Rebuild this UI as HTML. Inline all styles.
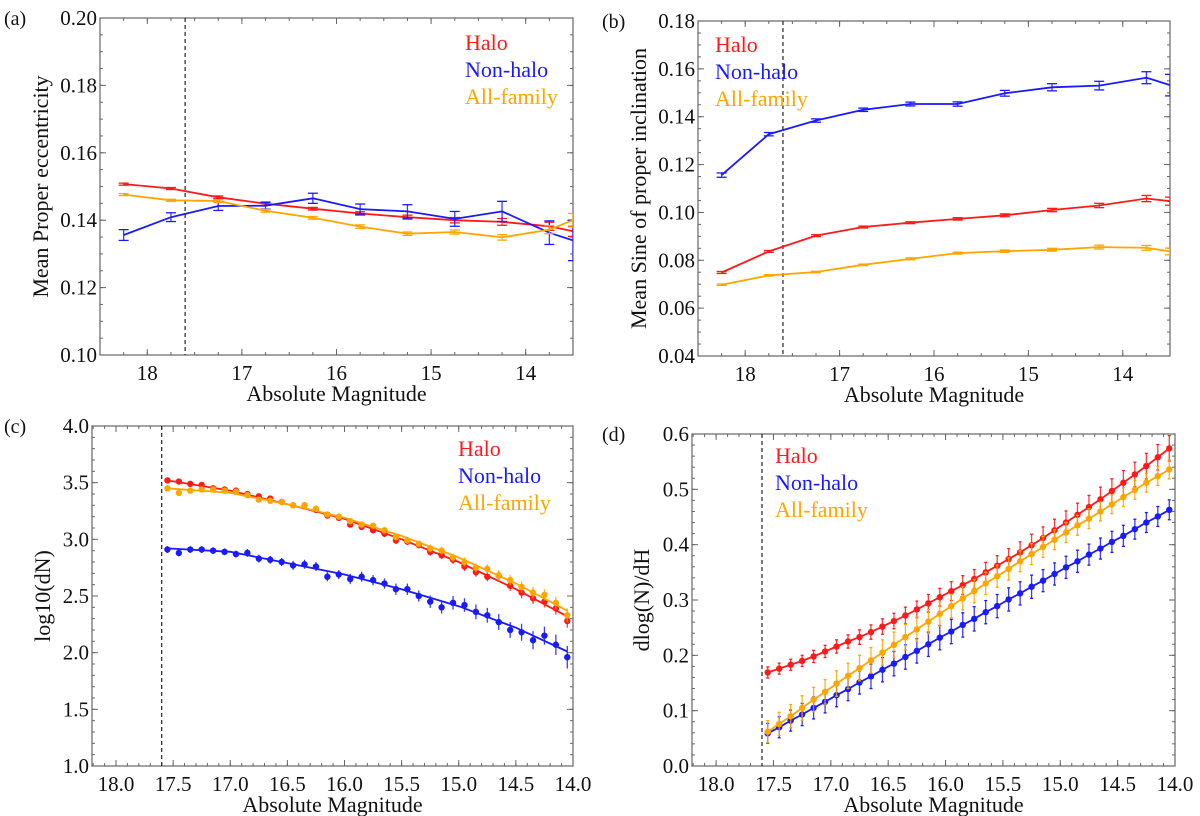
<!DOCTYPE html>
<html><head><meta charset="utf-8">
<style>
html,body{margin:0;padding:0;background:#fff;}
svg{display:block;font-family:"Liberation Serif",serif;}
</style></head>
<body>
<svg id="fig" width="1200" height="816" viewBox="0 0 1200 816"></svg>
<script>
// ---------- Panel (a) data: mean proper eccentricity ----------
const magAB = [18.25,17.75,17.25,16.75,16.25,15.75,15.25,14.75,14.25,13.75,13.5];
const aHalo = [0.1507,0.1494,0.1468,0.1449,0.1434,0.1420,0.1409,0.1400,0.1395,0.1382,0.1367];
const aHaloErr = [0.0003,0.0003,0.0004,0.0005,0.0004,0.0005,0.0006,0.0008,0.0010,0.0012,0.0015];
const aNon = [0.1356,0.1409,0.1442,0.1443,0.1465,0.1433,0.1426,0.1404,0.1426,0.1363,0.1340];
const aNonErr = [0.0016,0.0013,0.0013,0.0010,0.0015,0.0015,0.0020,0.0022,0.0030,0.0035,0.0060];
const aAll = [0.1476,0.1459,0.1457,0.1428,0.1407,0.1381,0.1360,0.1365,0.1349,0.1372,0.1400];
const aAllErr = [0.0003,0.0003,0.0004,0.0004,0.0004,0.0005,0.0005,0.0006,0.0008,0.0012,0.0020];
const aYTicks = [0.10,0.12,0.14,0.16,0.18,0.20];
const abXTicks = [18,17,16,15,14];

// ---------- Panel (b) data: mean sine of proper inclination ----------
const bHalo = [0.0749,0.0837,0.0903,0.0939,0.0957,0.0973,0.0988,0.1010,0.1029,0.1058,0.1047];
const bHaloErr = [0.0004,0.0004,0.0004,0.0004,0.0004,0.0005,0.0006,0.0007,0.0009,0.0013,0.0017];
const bNon = [0.1156,0.1327,0.1384,0.1429,0.1453,0.1453,0.1498,0.1523,0.1530,0.1563,0.1532];
const bNonErr = [0.0009,0.0007,0.0007,0.0007,0.0008,0.0009,0.0012,0.0015,0.0018,0.0025,0.0045];
const bAll = [0.0698,0.0737,0.0751,0.0781,0.0806,0.0830,0.0838,0.0844,0.0855,0.0852,0.0837];
const bAllErr = [0.0003,0.0003,0.0003,0.0003,0.0004,0.0004,0.0005,0.0006,0.0008,0.0010,0.0014];
const bYTicks = [0.04,0.06,0.08,0.10,0.12,0.14,0.16,0.18];

// ---------- Panels (c),(d) shared magnitudes ----------
const magCD = [17.55,17.45,17.35,17.25,17.15,17.05,16.95,16.85,16.75,16.65,16.55,16.45,16.35,16.25,16.15,16.05,15.95,15.85,15.75,15.65,15.55,15.45,15.35,15.25,15.15,15.05,14.95,14.85,14.75,14.65,14.55,14.45,14.35,14.25,14.15,14.05];
const cdXTicks = [18.0,17.5,17.0,16.5,16.0,15.5,15.0,14.5,14.0];

// ---------- Panel (c) data: log10(dN) ----------
const cHalo = [3.52,3.51,3.49,3.48,3.45,3.44,3.43,3.40,3.38,3.36,3.33,3.30,3.30,3.26,3.21,3.19,3.13,3.11,3.08,3.05,2.99,2.98,2.95,2.89,2.86,2.82,2.76,2.71,2.67,2.68,2.59,2.53,2.48,2.45,2.39,2.28];
const cAll = [3.45,3.41,3.43,3.44,3.44,3.43,3.42,3.39,3.35,3.34,3.33,3.30,3.30,3.27,3.22,3.20,3.16,3.13,3.12,3.08,3.02,2.99,2.96,2.92,2.90,2.84,2.80,2.75,2.74,2.68,2.64,2.58,2.53,2.51,2.44,2.33];
const cNon = [2.91,2.88,2.91,2.91,2.90,2.89,2.87,2.88,2.83,2.82,2.80,2.77,2.78,2.76,2.67,2.69,2.65,2.67,2.64,2.61,2.56,2.56,2.50,2.45,2.40,2.44,2.42,2.36,2.33,2.27,2.20,2.18,2.11,2.15,2.07,1.96];
const cHaloErr = [0.01,0.01,0.01,0.015,0.015,0.015,0.015,0.015,0.02,0.02,0.02,0.02,0.02,0.02,0.02,0.025,0.025,0.025,0.025,0.03,0.03,0.03,0.03,0.035,0.035,0.035,0.04,0.04,0.04,0.045,0.045,0.05,0.05,0.05,0.055,0.06];
const cNonErr = [0.03,0.03,0.03,0.03,0.03,0.03,0.03,0.035,0.035,0.035,0.035,0.04,0.04,0.04,0.04,0.04,0.045,0.045,0.045,0.045,0.05,0.05,0.05,0.055,0.055,0.06,0.06,0.065,0.065,0.07,0.07,0.075,0.08,0.08,0.09,0.1];
const cFitMag = [17.55,17.0,16.5,16.0,15.5,15.0,14.5,14.05];
const cFitHalo = [3.52,3.43,3.31,3.18,3.00,2.80,2.56,2.32];
const cFitAll = [3.45,3.41,3.31,3.19,3.03,2.84,2.61,2.37];
const cFitNon = [2.92,2.89,2.79,2.69,2.56,2.41,2.22,2.01];
const cYTicks = [1.0,1.5,2.0,2.5,3.0,3.5,4.0];

// ---------- Panel (d) data: dlog(N)/dH ----------
const dHalo = [0.169,0.176,0.183,0.190,0.198,0.207,0.216,0.225,0.233,0.242,0.252,0.262,0.272,0.283,0.294,0.305,0.316,0.327,0.338,0.350,0.362,0.374,0.386,0.399,0.412,0.426,0.440,0.454,0.468,0.482,0.497,0.512,0.527,0.542,0.558,0.574];
const dAll = [0.062,0.076,0.090,0.105,0.120,0.134,0.149,0.163,0.177,0.191,0.205,0.219,0.233,0.247,0.261,0.275,0.289,0.303,0.316,0.330,0.343,0.356,0.370,0.383,0.396,0.409,0.422,0.435,0.447,0.460,0.473,0.486,0.499,0.512,0.524,0.536];
const dNon = [0.059,0.070,0.082,0.093,0.105,0.116,0.128,0.139,0.151,0.162,0.174,0.185,0.197,0.208,0.220,0.232,0.243,0.255,0.266,0.278,0.289,0.301,0.312,0.324,0.335,0.347,0.359,0.370,0.382,0.393,0.405,0.416,0.428,0.440,0.451,0.463];
const dHaloErr = [0.010,0.010,0.010,0.010,0.011,0.011,0.012,0.012,0.013,0.013,0.014,0.014,0.015,0.015,0.016,0.016,0.017,0.017,0.017,0.018,0.018,0.019,0.019,0.020,0.020,0.020,0.021,0.021,0.021,0.022,0.022,0.022,0.022,0.023,0.023,0.023];
const dAllErr = [0.020,0.021,0.021,0.022,0.022,0.022,0.023,0.023,0.023,0.023,0.023,0.023,0.023,0.022,0.022,0.022,0.021,0.021,0.021,0.020,0.020,0.020,0.019,0.019,0.019,0.018,0.018,0.018,0.018,0.017,0.017,0.017,0.017,0.017,0.017,0.017];
const dNonErr = [0.018,0.019,0.019,0.020,0.020,0.020,0.021,0.021,0.021,0.022,0.022,0.022,0.022,0.022,0.022,0.022,0.022,0.022,0.022,0.021,0.021,0.021,0.021,0.021,0.020,0.020,0.020,0.020,0.019,0.019,0.019,0.019,0.018,0.018,0.018,0.018];
const dYTicks = [0.0,0.1,0.2,0.3,0.4,0.5,0.6];

const RED = '#ff1a1a', BLUE = '#1a1aff', ORANGE = '#ffa500';
const NS = 'http://www.w3.org/2000/svg';
const svg = document.getElementById('fig');

function mk(tag, attrs, parent) {
  const e = document.createElementNS(NS, tag);
  for (const k in attrs) e.setAttribute(k, attrs[k]);
  (parent || svg).appendChild(e);
  return e;
}

function panel(p) {
  const g = mk('g', {});
  
  
  const sx = v => p.L + (p.x0 - v) / (p.x0 - p.x1) * (p.R - p.L);
  const sy = v => p.B - (v - p.y0) / (p.y1 - p.y0) * (p.B - p.T);

  const fr = mk('rect', {x: p.L, y: p.T, width: p.R - p.L, height: p.B - p.T, fill: 'none', stroke: '#666', 'stroke-width': 1.2}, g);
  
  

  for (let v = p.x1; v <= p.x0 + 1e-9; v += p.xMinor) {
    const X = sx(v);
    mk('line', {x1: X, x2: X, y1: p.B, y2: p.B - 3, stroke: '#666', 'stroke-width': 1}, g);
    mk('line', {x1: X, x2: X, y1: p.T, y2: p.T + 3, stroke: '#666', 'stroke-width': 1}, g);
  }
  for (let v = p.y0; v <= p.y1 + 1e-9; v += p.yMinor) {
    const Y = sy(v);
    mk('line', {x1: p.L, x2: p.L + 3, y1: Y, y2: Y, stroke: '#666', 'stroke-width': 1}, g);
    mk('line', {x1: p.R, x2: p.R - 3, y1: Y, y2: Y, stroke: '#666', 'stroke-width': 1}, g);
  }
  p.xTicks.forEach(v => {
    const X = sx(v);
    mk('line', {x1: X, x2: X, y1: p.B, y2: p.B - 6, stroke: '#666', 'stroke-width': 1}, g);
    mk('line', {x1: X, x2: X, y1: p.T, y2: p.T + 6, stroke: '#666', 'stroke-width': 1}, g);
    const t = mk('text', {x: X, y: p.B + 25, 'font-size': 21, 'text-anchor': 'middle', fill: '#111'}, g);
    t.textContent = v.toFixed(p.xDec);
    
    
  });
  p.yTicks.forEach(v => {
    const Y = sy(v);
    mk('line', {x1: p.L, x2: p.L + 6, y1: Y, y2: Y, stroke: '#666', 'stroke-width': 1}, g);
    mk('line', {x1: p.R, x2: p.R - 6, y1: Y, y2: Y, stroke: '#666', 'stroke-width': 1}, g);
    const t = mk('text', {x: p.L - 3, y: Y + 7, 'font-size': 21, 'text-anchor': 'end', fill: '#111'}, g);
    t.textContent = v.toFixed(p.yDec);
    
    
  });
  const xt = mk('text', {x: (p.L + p.R) / 2, y: p.B + 46, 'font-size': 22, 'text-anchor': 'middle', fill: '#111'}, g);
  xt.textContent = 'Absolute Magnitude';
  
  
  const yt = mk('text', {x: 0, y: 0, 'font-size': 22, 'text-anchor': 'middle', fill: '#111', transform: `translate(${p.yTitleX},${(p.T + p.B) / 2}) rotate(-90)`}, g);
  yt.textContent = p.yTitle;
  
  
  const pl = mk('text', {x: p.letterX, y: p.T + 7, 'font-size': 20, fill: '#111'}, g);
  pl.textContent = p.letter;
  
  

  const dl = mk('line', {x1: sx(p.dash), x2: sx(p.dash), y1: p.T, y2: p.B, stroke: '#222', 'stroke-width': 1.2, 'stroke-dasharray': '4,3'}, g);
  
  

  const cid = 'clip' + p.letter.replace(/\W/g, '');
  const cp = mk('clipPath', {id: cid}, g);
  mk('rect', {x: p.L, y: p.T, width: p.R - p.L, height: p.B - p.T}, cp);
  const data = mk('g', {'clip-path': `url(#${cid})`}, g);

  p.series.forEach(s => {
    const sg = mk('g', {}, data);
    
    
    const lx = s.lineX || p.xs, ly = s.lineY || s.y;
    const pts = lx.map((v, i) => sx(v).toFixed(1) + ',' + sy(ly[i]).toFixed(1)).join(' ');
    const pl2 = mk('polyline', {points: pts, fill: 'none', stroke: s.color, 'stroke-width': 1.8}, sg);
    
    
    p.xs.forEach((v, i) => {
      const X = sx(v), Y1 = sy(s.y[i] - s.err[i]), Y2 = sy(s.y[i] + s.err[i]);
      const eb = mk('line', {x1: X, x2: X, y1: Y1, y2: Y2, stroke: s.color, 'stroke-width': 1.3, opacity: 0.85}, sg);
      
      
      if (p.cap) {
        mk('line', {x1: X - p.cap, x2: X + p.cap, y1: Y1, y2: Y1, stroke: s.color, 'stroke-width': 1.3}, sg);
        mk('line', {x1: X - p.cap, x2: X + p.cap, y1: Y2, y2: Y2, stroke: s.color, 'stroke-width': 1.3}, sg);
      }
      if (p.dots) {
        const c = mk('circle', {cx: X, cy: sy(s.y[i]), r: 3.2, fill: s.color}, sg);
        
        
      }
    });
  });

  p.series.forEach((s, i) => {
    const t = mk('text', {x: p.legX, y: p.legY + i * 27, 'font-size': 22, fill: s.color}, g);
    t.textContent = s.label;
    
    
  });
}

panel({name: 'panel-a-eccentricity', letter: '(a)', letterX: 4, L: 100, R: 573, T: 18, B: 355, x0: 18.5, x1: 13.5, y0: 0.10, y1: 0.20,
  xTicks: abXTicks, yTicks: aYTicks, xDec: 0, yDec: 2, xMinor: 0.25, yMinor: 0.005, dash: 17.6, cap: 5, dots: false,
  xs: magAB, yTitle: 'Mean Proper eccentricity', yTitleX: 48, legX: 465, legY: 50,
  series: [
    {key: 'halo', label: 'Halo', color: RED, y: aHalo, err: aHaloErr},
    {key: 'non-halo', label: 'Non-halo', color: BLUE, y: aNon, err: aNonErr},
    {key: 'all-family', label: 'All-family', color: ORANGE, y: aAll, err: aAllErr}]});

panel({name: 'panel-b-inclination', letter: '(b)', letterX: 602, L: 698, R: 1170, T: 21, B: 356, x0: 18.5, x1: 13.5, y0: 0.04, y1: 0.18,
  xTicks: abXTicks, yTicks: bYTicks, xDec: 0, yDec: 2, xMinor: 0.25, yMinor: 0.005, dash: 17.6, cap: 5, dots: false,
  xs: magAB, yTitle: 'Mean Sine of proper inclination', yTitleX: 646, legX: 715, legY: 52,
  series: [
    {key: 'halo', label: 'Halo', color: RED, y: bHalo, err: bHaloErr},
    {key: 'non-halo', label: 'Non-halo', color: BLUE, y: bNon, err: bNonErr},
    {key: 'all-family', label: 'All-family', color: ORANGE, y: bAll, err: bAllErr}]});

panel({name: 'panel-c-log-dn', letter: '(c)', letterX: 4, L: 92, R: 573, T: 426, B: 766, x0: 18.21, x1: 14.0, y0: 1.0, y1: 4.0,
  xTicks: cdXTicks, yTicks: cYTicks, xDec: 1, yDec: 1, xMinor: 0.1, yMinor: 0.1, dash: 17.6, cap: 0, dots: true,
  xs: magCD, yTitle: 'log10(dN)', yTitleX: 50, legX: 458, legY: 456,
  series: [
    {key: 'halo', label: 'Halo', color: RED, y: cHalo, err: cHaloErr, lineX: cFitMag, lineY: cFitHalo},
    {key: 'non-halo', label: 'Non-halo', color: BLUE, y: cNon, err: cNonErr, lineX: cFitMag, lineY: cFitNon},
    {key: 'all-family', label: 'All-family', color: ORANGE, y: cAll, err: cHaloErr, lineX: cFitMag, lineY: cFitAll}]});

panel({name: 'panel-d-slope', letter: '(d)', letterX: 602, L: 692, R: 1175, T: 434, B: 766, x0: 18.21, x1: 14.0, y0: 0.0, y1: 0.6,
  xTicks: cdXTicks, yTicks: dYTicks, xDec: 1, yDec: 1, xMinor: 0.1, yMinor: 0.02, dash: 17.6, cap: 1.5, dots: true,
  xs: magCD, yTitle: 'dlog(N)/dH', yTitleX: 649, legX: 775, legY: 463,
  series: [
    {key: 'halo', label: 'Halo', color: RED, y: dHalo, err: dHaloErr},
    {key: 'non-halo', label: 'Non-halo', color: BLUE, y: dNon, err: dNonErr},
    {key: 'all-family', label: 'All-family', color: ORANGE, y: dAll, err: dAllErr}]});
</script>
</body></html>
